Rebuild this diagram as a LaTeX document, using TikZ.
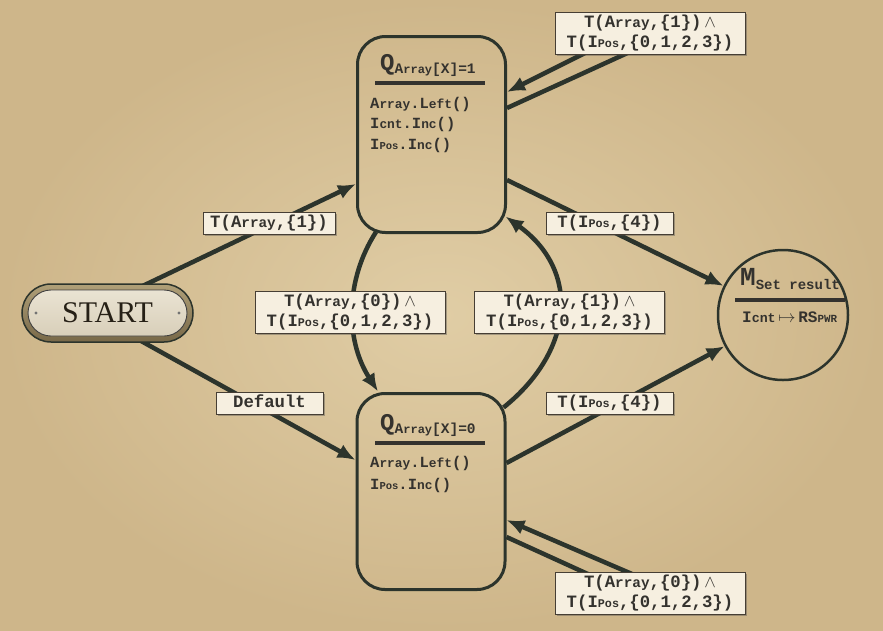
\documentclass[tikz,border=0pt]{standalone}
\usepackage{fontspec}
\setmainfont{Liberation Serif}
\setmonofont{Liberation Mono}
\usepackage{graphicx}
\usetikzlibrary{arrows.meta,shadows,calc}
\definecolor{paperin}{RGB}{224,205,165}
\definecolor{paperout}{RGB}{206,182,138}
\definecolor{ink}{RGB}{44,52,44}
\definecolor{txt}{RGB}{52,50,46}
\definecolor{cream}{RGB}{246,239,224}
\definecolor{frame}{RGB}{70,62,52}
\newcommand\lwr[1]{\scalebox{0.83}{#1}}
\newcommand\smc[1]{\scalebox{0.68}{#1}}
\newcommand\Arr{A\lwr{rray}}
\newcommand\IPos{I\smc{Pos}}
\newcommand\Icnt{I\lwr{cnt}}
\newcommand\Lft{L\lwr{eft}}
\newcommand\Inc{I\lwr{nc}}
\newcommand\AND{\,$\wedge$}
\newcommand\lblfont{\ttfamily\bfseries\fontsize{17.3}{20}\selectfont}
\newcommand\bodyfont{\ttfamily\bfseries\fontsize{15.5}{20.5}\selectfont}
\pgfdeclarelayer{bg}\pgfsetlayers{bg,main}
\begin{document}
\begin{tikzpicture}[x=1pt,y=-1pt,
 state/.style={draw=ink, line width=3pt, rounded corners=28pt, minimum width=148pt, minimum height=196pt, inner sep=0pt},
 lab/.style={fill=cream, draw=frame, line width=0.9pt, font=\lblfont, text=txt, align=center, inner xsep=4pt, inner ysep=3pt,
   drop shadow={shadow xshift=1.5pt, shadow yshift=-1.5pt, opacity=0.4, fill=black!70}},
 lab1/.style={lab, text height=12pt, text depth=4pt},
 edge/.style={draw=ink, line width=4.5pt, -{Latex[length=18pt,width=15pt]}},
 ttl/.style={anchor=base west, inner sep=0pt, text=txt},
 body/.style={anchor=base west, inner sep=0pt, text=txt, align=left, font=\bodyfont},
 rulestyle/.style={draw=txt, line width=3.5pt}
]
\useasboundingbox (0,0) rectangle (883,630);
\begin{pgfonlayer}{bg}
\shade[inner color=paperin, outer color=paperout] (0,0) rectangle (883,630);
\end{pgfonlayer}

% states
\node[state] (Q1) at (431.5,134.5) {};
\node[state] (Q0) at (431,491.5) {};
\node[draw=ink, line width=2.5pt, circle, minimum size=130pt, inner sep=0pt] (M) at (783,315) {};

% start plate
\node[minimum width=171pt, minimum height=58pt, rounded corners=29pt, draw=ink, line width=1.5pt,
  top color={rgb,255:red,176;green,160;blue,120}, bottom color={rgb,255:red,120;green,104;blue,72},
  font=\fontsize{30}{30}\selectfont, text={rgb,255:red,38;green,32;blue,22},
  path picture={
    \path[draw=black!75, line width=0.9pt, rounded corners=23pt,
      top color={rgb,255:red,236;green,230;blue,214}, middle color={rgb,255:red,186;green,170;blue,138},
      bottom color={rgb,255:red,214;green,204;blue,182}]
      ($(path picture bounding box.south west)+(6,-6)$) rectangle ($(path picture bounding box.north east)+(-6,6)$);
    \fill[black!55] ($(path picture bounding box.west)+(14,0)$) circle (1.6pt);
    \fill[black!55] ($(path picture bounding box.east)+(-14,0)$) circle (1.6pt);
  }] (START) at (107.5,313) {START};

% Q1 contents
\node[ttl] (Q1t) at (380,70) {\ttfamily\bfseries\fontsize{24}{24}\selectfont Q\fontsize{14.5}{14.5}\selectfont\raisebox{-3pt}{\Arr[X]=1}};
\draw[rulestyle] (375,83) -- (485,83);
\node[body] (Q1b) at (370,149) {\Arr.\Lft()\\\Icnt.\Inc()\\\IPos.\Inc()};

% Q0 contents
\node[ttl] (Q0t) at (380,430) {\ttfamily\bfseries\fontsize{24}{24}\selectfont Q\fontsize{14.5}{14.5}\selectfont\raisebox{-3pt}{\Arr[X]=0}};
\draw[rulestyle] (375,443) -- (485,443);
\node[body] (Q0b) at (370,489) {\Arr.\Lft()\\[1.5pt]\IPos.\Inc()};

% M contents
\node[ttl] (Mt) at (740,285) {\ttfamily\bfseries\fontsize{26}{26}\selectfont M\fontsize{14}{14}\selectfont\raisebox{-4pt}{Set result}};
\draw[rulestyle] (735,300) -- (845,300);
\node[ttl] (Mb) at (742,322) {\ttfamily\bfseries\fontsize{16}{16}\selectfont \Icnt\,$\mapsto$\,RS\smc{PWR}};

% edges
\begin{pgfonlayer}{bg}
\draw[edge] ($(START)+(12,-16)$) -- ($(Q1.west)+(0,49.5)$);
\draw[edge] ($(START)+(12,16)$) -- ($(Q0.west)+(0,-31.5)$);
\draw[edge] ($(Q1.south)+(-55.5,-2)$) .. controls (345,280) and (345,340) .. ($(Q0.north)+(-53,-0.5)$);
\draw[edge] ($(Q0.north east)+(-3,15.5)$) .. controls (575,350) and (580,270) .. ($(Q1.south east)+(-1.5,-17.5)$);
\draw[edge] ($(Q1.east)+(0,45.5)$) -- (M);
\draw[edge] ($(Q0.east)+(0,-28.5)$) -- (M);
\draw[edge] ($(Q1.east)+(0,-26.5)$) -- (634,50) -- (591,50) -- ($(Q1.east)+(0,-42.5)$);
\draw[edge] ($(Q0.east)+(0,45.5)$) -- (601,580) -- (646,580) -- ($(Q0.east)+(0,28.5)$);
\end{pgfonlayer}

% labels
\node[lab, minimum width=190pt] (Lq1) at (650,33.5) {T(\Arr,\{1\})\AND\\T(\IPos,\{0,1,2,3\})};
\node[lab1, minimum width=132pt] (La1) at (269,223) {T(\Arr,\{1\})};
\node[lab1, minimum width=127pt] (Lp4a) at (609.5,223) {T(\IPos,\{4\})};
\node[lab, minimum width=190pt] (La0) at (350,312.5) {T(\Arr,\{0\})\AND\\T(\IPos,\{0,1,2,3\})};
\node[lab, minimum width=190pt] (La1b) at (569.5,312.5) {T(\Arr,\{1\})\AND\\T(\IPos,\{0,1,2,3\})};
\node[lab1, minimum width=107pt] (Ldef) at (269.5,403) {Default};
\node[lab1, minimum width=127pt] (Lp4b) at (609.5,403) {T(\IPos,\{4\})};
\node[lab, minimum width=190pt] (Lq0) at (650,593.5) {T(\Arr,\{0\})\AND\\T(\IPos,\{0,1,2,3\})};
\end{tikzpicture}
\end{document}
